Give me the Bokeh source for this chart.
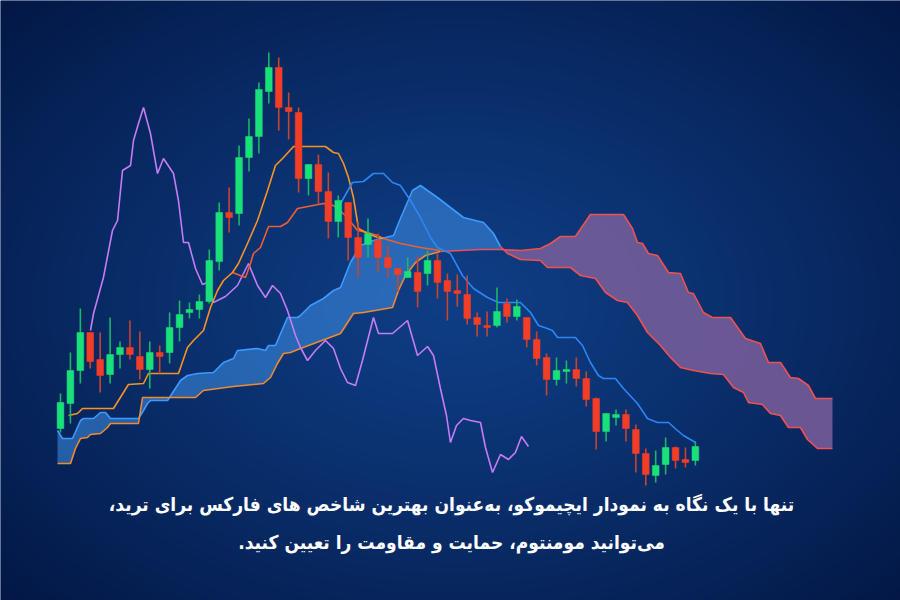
import numpy as np
from bokeh.plotting import figure
from bokeh.models import Range1d, Label, ColumnDataSource
from bokeh.embed import file_html
from bokeh.resources import INLINE

# ---------------- candles (bar index 0..64) ----------------
opens = [105.2, 107.7, 111.0, 114.8, 112.1, 110.6, 112.6, 113.3, 112.4, 111.1,
         112.8, 112.8, 115.3, 116.8, 117.1, 117.9, 121.9, 126.8, 126.7, 132.3,
         134.4, 138.9, 141.3, 137.3, 136.8, 130.2, 131.6, 128.9, 125.9, 127.8,
         124.3, 123.6, 124.0, 122.3, 121.2, 120.3, 120.8, 120.7, 122.0, 120.0,
         119.0, 118.6, 116.3, 115.5, 115.5, 117.7, 116.4, 116.3, 114.1, 112.3,
         110.1, 110.9, 111.1, 110.2, 108.2, 104.9, 106.3, 106.6, 105.1, 102.7,
         100.5, 101.6, 103.3, 102.1, 102.0]
closes = [107.8, 111.0, 114.8, 111.9, 110.5, 112.6, 113.3, 112.6, 111.1, 112.8,
          112.4, 115.3, 116.6, 117.1, 117.9, 122.0, 126.8, 126.3, 132.3, 134.4,
          139.1, 141.3, 137.3, 136.9, 130.2, 131.6, 128.9, 125.9, 128.0, 124.3,
          122.3, 124.7, 122.3, 121.3, 120.6, 120.9, 118.9, 122.0, 119.8, 118.9,
          118.7, 116.2, 115.6, 115.3, 116.9, 116.4, 117.4, 114.1, 112.2, 110.1,
          111.0, 111.1, 110.2, 108.1, 104.9, 106.7, 106.6, 105.2, 102.7, 100.6,
          101.5, 103.3, 102.0, 101.8, 103.4]
highs = [108.7, 112.8, 117.2, 114.8, 114.8, 116.3, 113.9, 116.0, 114.9, 113.9,
         113.5, 116.8, 118.0, 117.8, 118.6, 123.1, 127.8, 129.3, 133.5, 136.2,
         139.8, 142.8, 142.3, 138.8, 137.3, 131.6, 132.6, 130.8, 128.5, 127.8,
         125.9, 126.2, 124.7, 123.5, 121.2, 122.3, 122.4, 123.0, 122.7, 120.7,
         120.6, 120.5, 116.8, 116.9, 119.3, 118.2, 118.1, 116.3, 114.9, 112.7,
         112.3, 112.0, 112.3, 110.9, 108.3, 106.7, 107.1, 107.1, 105.6, 103.2,
         103.0, 104.3, 103.4, 103.3, 103.9]
lows = [104.8, 105.7, 109.7, 111.2, 108.8, 109.7, 111.2, 112.1, 110.1, 109.2,
        110.7, 111.7, 113.9, 116.2, 116.2, 117.7, 121.0, 124.8, 125.5, 130.9,
        132.7, 137.7, 135.0, 134.1, 128.8, 128.5, 127.6, 124.2, 124.3, 122.0,
        120.3, 122.3, 120.8, 120.3, 118.9, 120.3, 117.3, 119.5, 118.2, 116.0,
        117.4, 115.6, 114.4, 114.4, 115.3, 115.8, 116.0, 113.3, 111.5, 108.5,
        109.5, 109.7, 109.4, 107.4, 103.1, 103.9, 105.5, 103.9, 100.8, 99.5,
        99.8, 100.6, 101.2, 101.3, 101.5]

# ---------------- indicator lines: (bar index, price) ----------------
tenkan = [(0.81, 106.5), (1.71, 106.7), (2.22, 107.2), (5.34, 107.2), (6.85, 109.6),
          (8.37, 109.7), (8.87, 110.7), (11.89, 110.7), (12.80, 113.3), (13.41, 114.0),
          (14.41, 115.0), (15.12, 117.3), (15.83, 119.0), (16.43, 120.0), (17.34, 120.8),
          (17.94, 121.7), (18.85, 123.7), (19.86, 126.0), (20.87, 129.0), (21.67, 131.5),
          (22.48, 132.3), (23.49, 133.4), (26.71, 133.4), (27.52, 132.8), (28.02, 132.7),
          (28.53, 131.7), (29.03, 130.3), (29.53, 128.3), (30.04, 125.2), (30.95, 124.7),
          (31.95, 124.3), (32.56, 124.2)]
kijun = [(17.34, 120.8), (18.65, 120.3), (19.15, 121.7), (19.45, 122.7), (20.16, 123.3),
         (20.97, 125.4), (22.18, 125.4), (22.88, 125.8), (23.89, 127.2), (26.51, 127.7),
         (27.52, 127.5), (28.73, 126.5), (29.94, 125.0), (30.95, 124.8), (31.95, 124.5),
         (32.56, 124.2), (34.27, 123.7), (36.29, 123.3), (38.30, 123.0)]
base_line = [(27.92, 127.2), (28.23, 127.7), (29.43, 129.8), (30.54, 129.9), (31.55, 130.7),
             (32.56, 130.7), (33.47, 129.8), (34.27, 129.5), (35.28, 128.0), (36.29, 126.3),
             (37.30, 124.3), (38.00, 123.3), (39.31, 122.7), (40.52, 120.5), (41.63, 119.2),
             (43.04, 118.3), (44.15, 117.8), (46.37, 117.8), (47.38, 116.8), (48.18, 115.5),
             (49.09, 115.2), (49.59, 115.0), (50.10, 114.3), (51.91, 114.3), (52.62, 113.5),
             (53.42, 111.8), (54.23, 110.5), (54.73, 110.2), (55.94, 110.2), (56.75, 109.2),
             (58.16, 107.7), (59.17, 106.2), (60.18, 105.8), (61.29, 105.8), (62.19, 105.0),
             (62.80, 104.5), (64.01, 103.8)]
span_a = [(-0.30, 105.0), (0.20, 104.2), (1.21, 104.2), (2.02, 106.0), (2.32, 106.2),
          (3.33, 106.2), (4.03, 106.8), (4.54, 106.8), (5.04, 106.2), (7.86, 106.2),
          (8.37, 107.0), (8.77, 107.7), (9.07, 108.0), (10.79, 108.0), (12.10, 110.0),
          (12.80, 110.5), (13.81, 110.7), (15.42, 110.8), (16.43, 111.8), (17.44, 112.2),
          (17.84, 113.0), (19.86, 113.2), (20.66, 113.0), (20.97, 113.5), (21.67, 113.5),
          (22.88, 116.3), (23.89, 116.3), (24.19, 116.5), (25.20, 117.5), (26.51, 118.2),
          (27.52, 119.0), (28.23, 119.3), (29.23, 121.8), (30.24, 123.5), (31.55, 124.0),
          (33.57, 124.5), (34.27, 126.2), (35.48, 129.0), (36.29, 129.5), (36.99, 129.0),
          (38.00, 128.3), (39.31, 127.3), (40.62, 126.3), (42.64, 125.8), (43.65, 124.7),
          (44.35, 123.4), (45.06, 122.7), (46.37, 122.1), (48.38, 122.0), (49.09, 121.3),
          (51.41, 121.3), (52.42, 120.5), (53.93, 120.2), (54.94, 118.8), (56.15, 118.0),
          (57.15, 117.8), (58.16, 116.5), (59.17, 114.8), (60.48, 113.5), (61.49, 112.3),
          (62.50, 111.3), (63.81, 111.0), (65.52, 110.7), (66.83, 110.6), (67.84, 109.3),
          (68.85, 108.8), (69.35, 107.8), (70.76, 107.6), (71.57, 106.7), (72.58, 106.5),
          (73.38, 105.3), (74.59, 105.3), (75.30, 104.1), (76.31, 103.2), (77.82, 103.2)]
span_b = [(-0.30, 101.7), (1.01, 101.7), (1.51, 103.2), (2.02, 104.2), (2.72, 104.3),
          (3.02, 104.6), (4.03, 104.7), (4.74, 105.3), (5.04, 105.7), (7.86, 105.7),
          (8.27, 108.3), (13.61, 108.3), (14.41, 109.0), (17.44, 109.4), (20.46, 109.7),
          (21.17, 110.3), (21.87, 111.7), (22.48, 112.7), (23.18, 112.8), (24.19, 113.2),
          (28.23, 114.7), (29.53, 116.7), (30.54, 116.8), (33.47, 117.3), (34.07, 119.0),
          (34.78, 120.5), (35.79, 121.8), (36.79, 122.5), (38.30, 122.9), (40.32, 123.0),
          (42.34, 123.1), (44.35, 123.1), (46.37, 123.0), (48.38, 123.2), (49.39, 123.7),
          (50.40, 124.4), (51.91, 124.4), (53.42, 126.6), (56.75, 126.6), (57.66, 125.2),
          (58.16, 123.8), (58.67, 123.7), (59.27, 122.7), (60.18, 122.5), (61.29, 120.8),
          (62.50, 120.7), (63.30, 118.8), (63.81, 118.7), (64.81, 116.8), (65.72, 116.3),
          (67.54, 116.3), (69.05, 114.2), (70.56, 113.7), (71.37, 111.8), (72.58, 111.8),
          (73.58, 110.3), (74.39, 110.2), (75.40, 109.5), (76.10, 108.2), (77.82, 108.2)]
chikou = [(3.02, 115.0), (3.33, 116.7), (4.33, 120.3), (5.24, 125.0), (5.75, 126.0),
          (6.25, 131.0), (7.06, 131.5), (7.36, 134.0), (7.86, 135.7), (8.37, 137.3),
          (9.07, 134.7), (9.78, 130.7), (10.38, 132.2), (11.39, 130.7), (11.89, 128.0),
          (12.40, 123.8), (12.90, 123.8), (13.61, 121.2), (14.31, 119.6), (14.82, 119.8),
          (15.42, 117.8), (16.63, 118.4), (17.84, 119.5), (18.95, 121.7), (19.86, 119.5),
          (20.66, 118.3), (21.37, 119.5), (22.18, 118.7), (22.88, 117.0), (23.69, 114.5),
          (24.19, 113.3), (24.90, 112.0), (25.70, 113.0), (26.71, 114.0), (27.52, 113.2),
          (28.23, 111.2), (28.93, 109.8), (29.74, 109.5), (30.44, 112.0), (31.55, 116.3),
          (32.06, 114.7), (33.47, 114.7), (34.98, 116.0), (35.99, 112.5), (37.00, 113.4),
          (37.60, 112.5), (38.30, 109.2), (38.91, 106.5), (39.31, 103.8), (39.92, 105.5),
          (40.62, 106.2), (41.33, 106.0), (42.34, 105.8), (42.84, 103.3), (43.55, 100.8),
          (44.35, 102.6), (45.16, 102.1), (45.86, 102.8), (46.47, 104.4), (47.17, 103.4)]
cloud_switch = 44.35  # index where the cloud turns bearish

caption_1 = "\u200fتنها با یک نگاه به نمودار ایچیموکو، به\u200cعنوان بهترین شاخص های فارکس برای ترید،\u200f"
caption_2 = "\u200fمی\u200cتوانید مومنتوم، حمایت و مقاومت را تعیین کنید.\u200f"

# ---------------- figure ----------------
W, H = 900, 600
X0, X1 = -6.048, 84.677
Y0, Y1 = 88.0, 148.0
p = figure(width=W, height=H, x_range=Range1d(X0, X1), y_range=Range1d(Y0, Y1),
           output_backend="svg", toolbar_location=None, min_border=0,
           x_axis_type=None, y_axis_type=None)
p.grid.visible = False
p.outline_line_color = None
p.background_fill_color = "#0a2d66"
p.border_fill_color = "#0a2d66"

# background radial gradient
yy, xx = np.mgrid[0:H, 0:W]
fy = (H - 1 - yy).astype(float)
d = np.sqrt(((xx - 455.0) / 620.0) ** 2 + ((fy - 300.0) / 430.0) ** 2)
t = np.clip(d, 0, 1) ** 1.2
inner = np.array([15, 62, 133], dtype=float)
outer = np.array([3, 24, 70], dtype=float)
img = np.empty((H, W), dtype=np.uint32)
view = img.view(dtype=np.uint8).reshape((H, W, 4))
for k in range(3):
    view[:, :, k] = (inner[k] * (1 - t) + outer[k] * t).astype(np.uint8)
view[:, :, 3] = 255
p.image_rgba(image=[img], x=X0, y=Y0, dw=X1 - X0, dh=Y1 - Y0)

def split(pairs):
    return [a for a, b in pairs], [b for a, b in pairs]

# clouds
bull_a = [(x, y) for x, y in span_a if x <= cloud_switch]
bull_b = [(x, y) for x, y in span_b if x <= cloud_switch]
bear_a = [(x, y) for x, y in span_a if x >= cloud_switch]
bear_b = [(x, y) for x, y in span_b if x >= cloud_switch]
px = [x for x, _ in bull_a] + [x for x, _ in bull_b[::-1]]
py = [y for _, y in bull_a] + [y for _, y in bull_b[::-1]]
p.patch(px, py, fill_color="#3f8fe6", fill_alpha=0.55, line_color=None)
qx = [x for x, _ in bear_a] + [x for x, _ in bear_b[::-1]]
qy = [y for _, y in bear_a] + [y for _, y in bear_b[::-1]]
p.patch(qx, qy, fill_color="#7a5f9c", fill_alpha=0.85, line_color=None)

# cloud edges
p.line(*split(bull_a), line_color="#3b9bff", line_width=1.6)
p.line(*split(bear_a), line_color="#f0504f", line_width=1.6)
b_or = [(x, y) for x, y in span_b if x <= 38.3]
b_rd = [(x, y) for x, y in span_b if x >= 38.3]
p.line(*split(b_or), line_color="#f08a2c", line_width=1.6)
p.line(*split(b_rd), line_color="#f0504f", line_width=1.6)

# other lines
p.line(*split(chikou), line_color="#c57cf5", line_width=1.6)
p.line(*split(kijun), line_color="#ec5e34", line_width=1.6)
p.line(*split(tenkan), line_color="#f79420", line_width=1.6)
p.line(*split(base_line), line_color="#2d86f5", line_width=1.6)

# candles
idx = list(range(len(opens)))
up = [c >= o for o, c in zip(opens, closes)]
src = ColumnDataSource(dict(
    x=idx, o=opens, c=closes, h=highs, l=lows,
    top=[max(o, c) for o, c in zip(opens, closes)],
    bot=[min(o, c) for o, c in zip(opens, closes)],
    body=["#19e07a" if u else "#f23d27" for u in up],
    wick=["#17b866" if u else "#c8442c" for u in up],
))
p.segment(x0="x", y0="l", x1="x", y1="h", source=src, line_color="wick", line_width=1.6)
p.vbar(x="x", width=0.68, top="top", bottom="bot", source=src,
       fill_color="body", line_color="body", line_width=0.5)

# caption
for txt, ypx in ((caption_1, 97), (caption_2, 59)):
    p.add_layout(Label(x=451, y=ypx, x_units="screen", y_units="screen", text=txt,
                       text_align="center", text_baseline="middle",
                       text_font="DejaVu Sans Condensed", text_font_style="bold",
                       text_font_size="19px", text_color="white"))

open("out.html", "w").write(file_html(p, INLINE))
